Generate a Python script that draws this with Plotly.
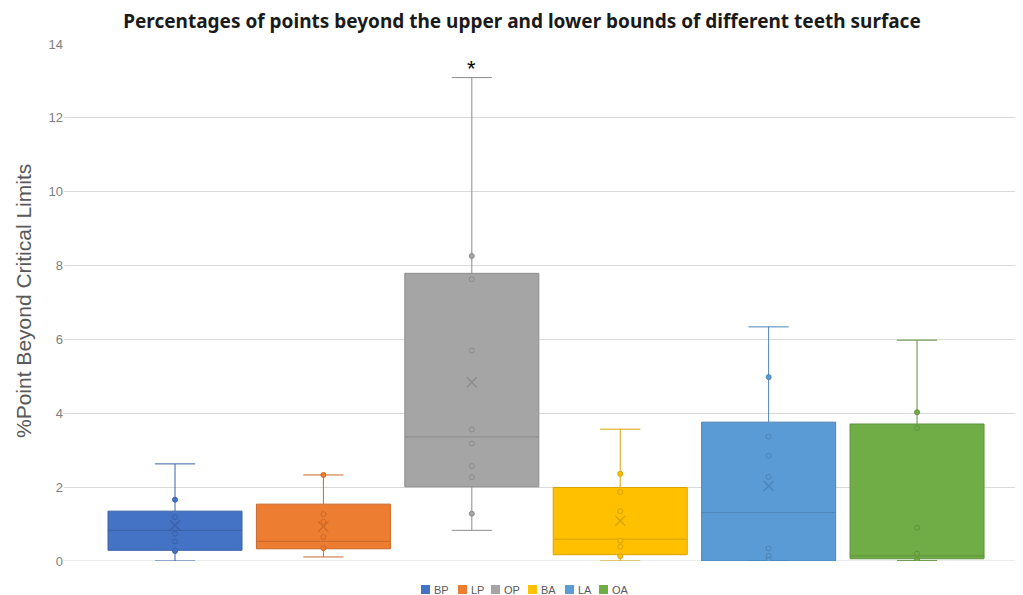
import plotly.graph_objects as go

groups = ["BP", "LP", "OP", "BA", "LA", "OA"]
colors = ["#4472C4", "#ED7D31", "#A5A5A5", "#FFC000", "#5B9BD5", "#70AD47"]
edge_colors = ["#3A62A8", "#C9692A", "#8C8C8C", "#D9A300", "#4D84B5", "#5F933C"]

q1 = [0.29, 0.33, 2.01, 0.17, 0.00, 0.06]
median = [0.83, 0.53, 3.36, 0.59, 1.31, 0.14]
q3 = [1.35, 1.54, 7.79, 1.99, 3.76, 3.71]
lower = [0.00, 0.11, 0.83, 0.00, 0.00, 0.01]
upper = [2.63, 2.33, 13.09, 3.57, 6.34, 5.98]
means = [0.96, 0.93, 4.84, 1.09, 2.03, None]

points = [
    [1.66, 1.19, 0.74, 0.53, 0.27],
    [2.33, 1.27, 1.06, 0.65, 0.35],
    [8.26, 7.63, 5.70, 3.56, 3.18, 2.57, 2.27, 1.28],
    [2.36, 1.87, 1.35, 0.55, 0.39, 0.13],
    [4.98, 3.37, 2.85, 2.28, 0.34, 0.14, 0.03],
    [4.03, 3.60, 0.90, 0.20, 0.03],
]

# The page body has an 8px margin, so the figure is drawn offset by (8, 8).
OFF = 8
W, H = 1023 - OFF, 595 - OFF
L, T = 64 - OFF, 44 - OFF
B = H - (561 - OFF)
PW = W - L
PH = H - T - B
legend_px = [421, 458, 491, 528, 565, 599]  # screen x of legend squares

def px_x(p):
    return (p - OFF - L) / PW

def px_y(p):
    return (H - B - (p - OFF)) / PH

fig = go.Figure()
for i, g in enumerate(groups):
    fig.add_trace(go.Box(
        x=[i], q1=[q1[i]], median=[median[i]], q3=[q3[i]],
        lowerfence=[lower[i]], upperfence=[upper[i]],
        width=0.903, whiskerwidth=0.3,
        fillcolor=colors[i], line=dict(color=edge_colors[i], width=1),
        showlegend=False, boxpoints=False, hoverinfo="skip", name=g,
    ))
    fig.add_trace(go.Scatter(
        x=[i] * len(points[i]), y=points[i], mode="markers",
        marker=dict(symbol="circle", size=5, color=colors[i],
                    line=dict(color=edge_colors[i], width=1)),
        showlegend=False, hoverinfo="skip",
    ))
    if means[i] is not None:
        fig.add_trace(go.Scatter(
            x=[i], y=[means[i]], mode="markers",
            marker=dict(symbol="x-thin", size=10,
                        line=dict(color=edge_colors[i], width=1.3)),
            showlegend=False, hoverinfo="skip",
        ))
    # legend entry
    x0 = legend_px[i]
    fig.add_shape(type="rect", xref="paper", yref="paper",
                  x0=px_x(x0), x1=px_x(x0 + 9), y0=px_y(585), y1=px_y(594),
                  fillcolor=colors[i], line=dict(width=0))
    fig.add_annotation(xref="paper", yref="paper", x=px_x(x0 + 11), y=px_y(589.5),
                       text=g, showarrow=False, xanchor="left", yanchor="middle",
                       font=dict(size=11, color="#595959", family="Liberation Sans"))

fig.add_annotation(x=2, y=upper[2], text="*", showarrow=False,
                   yanchor="bottom", yshift=-5,
                   font=dict(size=22, color="#000000", family="Liberation Sans"))

# y-axis title
fig.add_annotation(xref="paper", yref="paper", x=px_x(23), y=px_y(301),
                   text="%Point Beyond Critical Limits", showarrow=False,
                   textangle=-90, xanchor="center", yanchor="middle",
                   font=dict(size=21, color="#595959", family="Liberation Sans"))

fig.update_layout(
    width=W, height=H,
    margin=dict(l=L, r=0, t=T, b=B),
    paper_bgcolor="white", plot_bgcolor="white",
    showlegend=False,
    title=dict(text="<b>Percentages of points beyond the upper and lower bounds of different teeth surface</b>",
               x=(522 - OFF) / W, xanchor="center", y=1 - (21 - OFF) / H, yanchor="middle",
               font=dict(size=19, color="#1a1a1a", family="Noto Sans")),
    font=dict(family="Liberation Sans", color="#595959"),
    xaxis=dict(range=[-0.748, 5.714], showticklabels=False, showgrid=False,
               zeroline=False, showline=False, automargin=False),
    yaxis=dict(range=[0, 14], dtick=2, showgrid=True, gridcolor="#D9D9D9",
               gridwidth=1, zeroline=False, showline=False, automargin=False,
               tickfont=dict(size=13, color="#808080"), ticks=""),
)
fig.add_hline(y=0, line=dict(color="#D9D9D9", width=1), layer="below")

fig.write_html("out.html")
